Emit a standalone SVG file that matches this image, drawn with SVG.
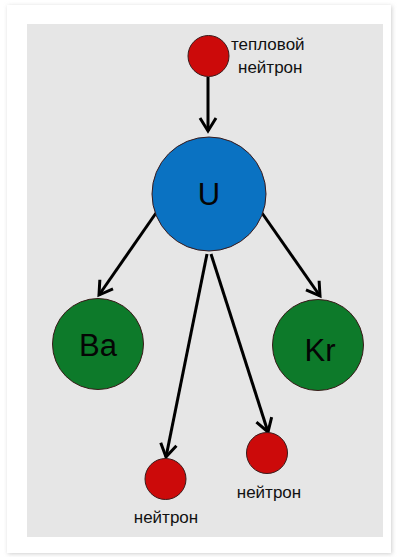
<svg xmlns="http://www.w3.org/2000/svg" width="399" height="557" viewBox="0 0 399 557">
<defs>
<filter id="sh" x="-5%" y="-5%" width="110%" height="110%"><feGaussianBlur stdDeviation="2"/></filter>
<marker id="ah" markerUnits="userSpaceOnUse" markerWidth="30" markerHeight="30" refX="0" refY="0" viewBox="-15 -15 30 30" orient="auto" overflow="visible">
<path d="M-13,-8 L0,0 L-13,8" fill="none" stroke="#000" stroke-width="3" stroke-linejoin="miter"/>
</marker>
<style>
.c{stroke:#3a1a1a;stroke-width:1}
.red{fill:#cc0a0a}
.blue{fill:#0a72c2}
.green{fill:#0d7a2a}
.lbl{font-family:"Liberation Sans",Arial,sans-serif;font-size:17px;fill:#111}
.big{font-family:"Liberation Sans",Arial,sans-serif;font-size:31px;fill:#050505;text-anchor:middle}
.con line{stroke:#000;stroke-width:3;marker-end:url(#ah)}
</style>
</defs>
<rect width="399" height="557" fill="#ffffff"/>
<rect x="8" y="6" width="384" height="548" fill="#cfcfcf" filter="url(#sh)"/>
<rect x="7" y="5" width="384" height="548" fill="#ffffff"/>
<rect x="27" y="24" width="356" height="513" fill="#e6e6e6"/>
<g class="con" id="connectors">
<line x1="208" y1="77" x2="208" y2="131"/>
<line x1="156" y1="213" x2="99" y2="295"/>
<line x1="262" y1="213" x2="320" y2="296"/>
<line x1="207" y1="254" x2="166" y2="457"/>
<line x1="211" y1="254" x2="268" y2="432"/>
</g>
<g id="n-thermal">
<circle class="c red" cx="208.5" cy="56" r="20.5"/>
<text class="lbl" x="231" y="50">тепловой</text>
<text class="lbl" x="238" y="73">нейтрон</text>
</g>
<g id="n-U">
<circle class="c blue" cx="209" cy="194" r="57"/>
<text class="big" x="209" y="205">U</text>
</g>
<g id="n-Ba">
<circle class="c green" cx="98" cy="344" r="45.5"/>
<text class="big" x="98" y="356">Ba</text>
</g>
<g id="n-Kr">
<circle class="c green" cx="318" cy="345" r="45.5"/>
<text class="big" x="320" y="361">Kr</text>
</g>
<g id="n-left">
<circle class="c red" cx="165.5" cy="479" r="20.5"/>
<text class="lbl" x="166" y="523" text-anchor="middle">нейтрон</text>
</g>
<g id="n-right">
<circle class="c red" cx="267" cy="453" r="20.5"/>
<text class="lbl" x="269" y="498" text-anchor="middle">нейтрон</text>
</g>
</svg>
